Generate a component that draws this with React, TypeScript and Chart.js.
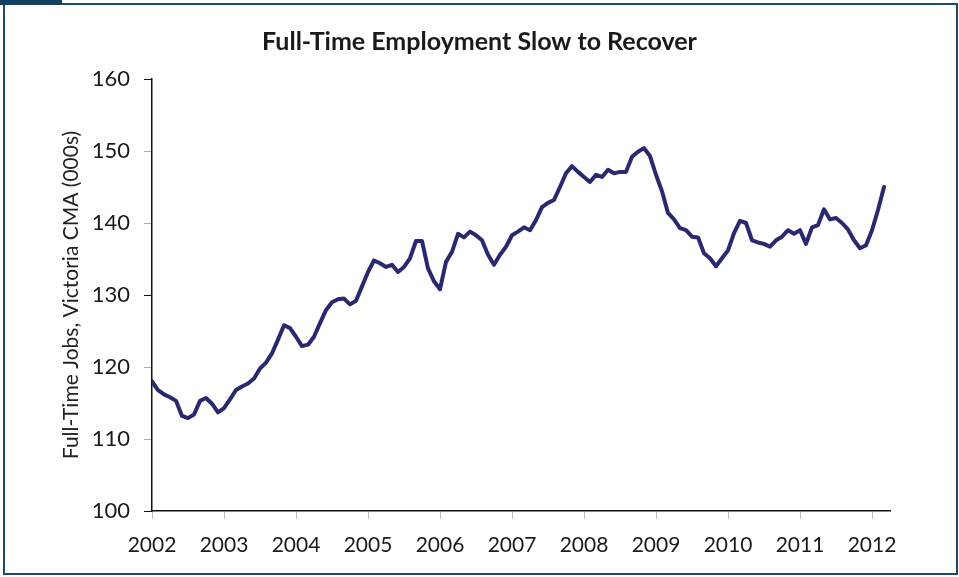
import React, { useEffect, useRef } from "react";
import { Chart, registerables } from "chart.js";

Chart.register(...registerables);

const TITLE = "Full-Time Employment Slow to Recover";
const Y_TITLE = "Full-Time Jobs, Victoria CMA (000s)";
const START_YEAR = 2002;
const YEAR_TICKS = [2002, 2003, 2004, 2005, 2006, 2007, 2008, 2009, 2010, 2011, 2012];

// Monthly full-time jobs (000s), Jan 2002 .. Mar 2012
const jobs2002 = [118.0, 116.8, 116.2, 115.8, 115.3, 113.2, 112.9, 113.4, 115.3, 115.7, 114.9, 113.7];
const jobs2003 = [114.3, 115.5, 116.8, 117.3, 117.7, 118.4, 119.8, 120.6, 121.9, 123.8, 125.8, 125.4];
const jobs2004 = [124.2, 122.9, 123.1, 124.2, 126.1, 127.9, 129.0, 129.4, 129.5, 128.7, 129.2, 131.2];
const jobs2005 = [133.2, 134.8, 134.4, 133.9, 134.2, 133.2, 133.9, 135.1, 137.5, 137.5, 133.7, 131.9];
const jobs2006 = [130.8, 134.6, 136.0, 138.5, 138.0, 138.8, 138.3, 137.6, 135.6, 134.2, 135.6, 136.7];
const jobs2007 = [138.3, 138.8, 139.4, 139.0, 140.4, 142.2, 142.8, 143.2, 145.0, 146.9, 147.9, 147.1];
const jobs2008 = [146.4, 145.7, 146.7, 146.4, 147.4, 146.9, 147.1, 147.1, 149.2, 149.9, 150.4, 149.3];
const jobs2009 = [146.7, 144.4, 141.4, 140.5, 139.3, 139.0, 138.1, 138.0, 135.8, 135.1, 134.0, 135.1];
const jobs2010 = [136.2, 138.6, 140.3, 140.0, 137.6, 137.3, 137.1, 136.7, 137.6, 138.1, 139.0, 138.5];
const jobs2011 = [139.0, 137.1, 139.4, 139.7, 141.9, 140.5, 140.7, 140.0, 139.1, 137.6, 136.5, 136.9];
const jobs2012 = [139.0, 141.8, 145.0];

const jobs = [
  ...jobs2002, ...jobs2003, ...jobs2004, ...jobs2005, ...jobs2006, ...jobs2007,
  ...jobs2008, ...jobs2009, ...jobs2010, ...jobs2011, ...jobs2012,
];

const FONT = "Lato, 'Open Sans', sans-serif";

export default function App() {
  const canvasRef = useRef<HTMLCanvasElement>(null);

  useEffect(() => {
    document.body.style.margin = "0";
    const canvas = canvasRef.current;
    if (!canvas) return;
    const points = jobs.map((v, i) => ({ x: START_YEAR + i / 12, y: v }));
    const chart = new Chart(canvas, {
      type: "line",
      data: {
        datasets: [
          {
            data: points,
            borderColor: "#29296f",
            borderWidth: 4,
            pointRadius: 0,
            tension: 0,
            borderJoinStyle: "round",
            borderCapStyle: "round",
            fill: false,
            yAxisID: "y",
          },
        ],
      },
      options: {
        responsive: false,
        animation: false,
        layout: { padding: { left: 0, right: 0, top: 0, bottom: 0 } },
        plugins: {
          legend: { display: false },
          tooltip: { enabled: false },
          title: {
            display: true,
            text: TITLE,
            color: "#1a1a1a",
            font: { family: FONT, size: 25, weight: "bold" },
            padding: { top: 27, bottom: 22 },
          },
        },
        scales: {
          x: {
            type: "linear",
            min: 2002,
            max: 2012.25,
            afterBuildTicks: (scale: any) => {
              scale.ticks = YEAR_TICKS.map((v) => ({ value: v }));
            },
            afterFit: (scale: any) => {
              scale.height = 66;
            },
            ticks: {
              color: "#1a1a1a",
              font: { family: FONT, size: 21 },
              padding: 14,
              maxRotation: 0,
              autoSkip: false,
              callback: (v: any) => String(v),
            },
            grid: {
              drawOnChartArea: false,
              drawTicks: true,
              tickLength: 8,
              tickColor: "#bbbbbb",
            },
            border: { display: true, color: "#111", width: 1.5 },
          },
          y: {
            min: 100,
            max: 160,
            afterFit: (scale: any) => {
              scale.width = 152;
            },
            ticks: {
              stepSize: 10,
              color: "#1a1a1a",
              font: { family: FONT, size: 22 },
              padding: 14,
            },
            grid: {
              drawOnChartArea: false,
              drawTicks: true,
              tickLength: 8,
              tickColor: (ctx: any) =>
                ctx.tick && (ctx.tick.value - 100) % 30 === 0 ? "#111" : "#aaaaaa",
            },
            border: { display: true, color: "#111", width: 1.5 },
            title: {
              display: true,
              text: Y_TITLE,
              color: "#222",
              font: { family: FONT, size: 21 },
              padding: { top: 59, bottom: 0 },
            },
          },
          yRight: {
            position: "right",
            display: true,
            min: 100,
            max: 160,
            afterFit: (scale: any) => {
              scale.width = 69;
            },
            ticks: { display: false },
            grid: { display: false, drawTicks: false },
            border: { display: false },
          },
        },
      },
    } as any);
    return () => chart.destroy();
  }, []);

  return (
    <div style={{ position: "fixed", left: 0, top: 0, width: 959, height: 577, background: "#fff" }}>
      <canvas ref={canvasRef} width={959} height={577} style={{ position: "absolute", left: 0, top: 0 }} />
      <div
        style={{
          position: "absolute",
          left: 3,
          top: 3,
          width: 951,
          height: 568,
          border: "2px solid #1d4a6c",
          pointerEvents: "none",
        }}
      />
      <div style={{ position: "absolute", left: 0, top: 0, width: 62, height: 5, background: "#143f5e" }} />
    </div>
  );
}
